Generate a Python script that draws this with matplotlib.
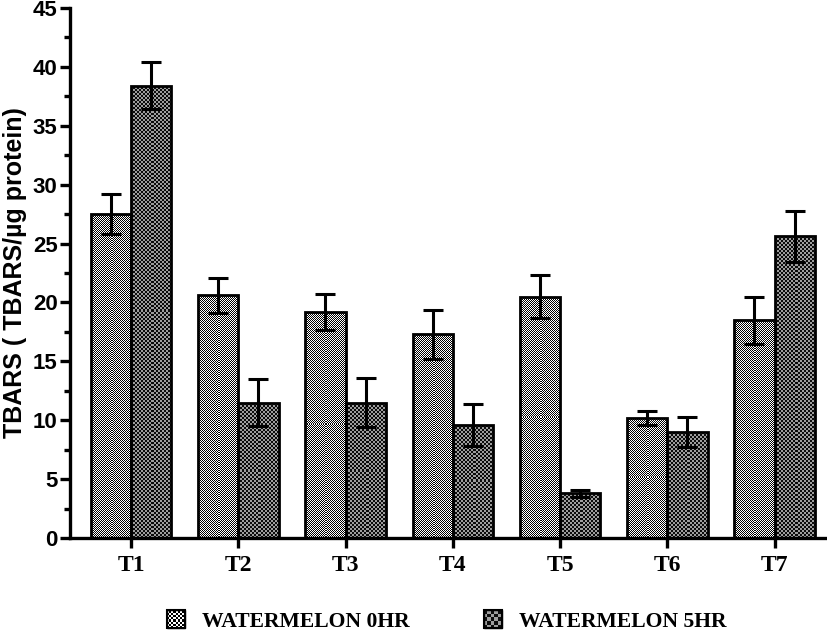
import numpy as np
import matplotlib
matplotlib.use("Agg")
import matplotlib.pyplot as plt
from matplotlib.patches import Rectangle
from matplotlib.legend_handler import HandlerBase

categories = ["T1", "T2", "T3", "T4", "T5", "T6", "T7"]
series_names = ["WATERMELON 0HR", "WATERMELON 5HR"]
vals_0hr = [27.5, 20.6, 19.2, 17.3, 20.5, 10.2, 18.5]
err_0hr = [1.7, 1.5, 1.5, 2.1, 1.8, 0.6, 2.0]
vals_5hr = [38.4, 11.5, 11.5, 9.6, 3.8, 9.0, 25.6]
err_5hr = [2.0, 2.0, 2.1, 1.8, 0.3, 1.3, 2.2]
ylabel = "TBARS ( TBARS/\u00b5g protein)"

W, H, DPI = 827, 634, 100
fig = plt.figure(figsize=(W / DPI, H / DPI), dpi=DPI)
ax = fig.add_axes([70 / W, 1 - 538 / H, (826 - 70) / W, (538 - 8) / H])

x = np.arange(len(categories))
bw = 0.375
xlim = (-0.57, 6.48)
ylim = (0, 45)
ax.set_xlim(*xlim)
ax.set_ylim(*ylim)

textures = [
    dict(cell=1, c1=(0.0, 0.0, 0.0), c2=(1.0, 1.0, 1.0)),
    dict(cell=2, c1=(0.05, 0.05, 0.05), c2=(0.62, 0.62, 0.62)),
]


def checker(hpx, wpx, cell, c1, c2):
    yy, xx = np.mgrid[0:hpx, 0:wpx]
    m = ((yy // cell + xx // cell) % 2).astype(bool)
    img = np.empty((hpx, wpx, 3))
    img[m] = c1
    img[~m] = c2
    return img


for si, (vals, errs) in enumerate([(vals_0hr, err_0hr), (vals_5hr, err_5hr)]):
    offs = -bw / 2 if si == 0 else bw / 2
    bars = ax.bar(x + offs, vals, width=bw, color="white", edgecolor="none", zorder=2)
    tex = textures[si]
    for b in bars:
        x0, y0 = b.get_x(), b.get_y()
        x1, y1 = x0 + b.get_width(), y0 + b.get_height()
        p0 = ax.transData.transform((x0, y0))
        p1 = ax.transData.transform((x1, y1))
        wpx = max(1, int(round(abs(p1[0] - p0[0]))))
        hpx = max(1, int(round(abs(p1[1] - p0[1]))))
        img = checker(hpx, wpx, tex["cell"], tex["c1"], tex["c2"])
        im = ax.imshow(img, extent=(x0, x1, y0, y1), origin="lower",
                       interpolation="nearest", aspect="auto", zorder=2.5)
        im.set_clip_path(b)
    ax.bar(x + offs, vals, width=bw, fill=False, edgecolor="black", linewidth=2.0, zorder=3)
    ax.errorbar(x + offs, vals, yerr=errs, fmt="none", ecolor="black",
                elinewidth=2.2, capsize=7, capthick=2.2, zorder=5)

ax.set_xlim(*xlim)
ax.set_ylim(*ylim)
ax.set_aspect("auto")

for s in ["top", "right"]:
    ax.spines[s].set_visible(False)
for s in ["left", "bottom"]:
    ax.spines[s].set_linewidth(2.4)

ax.set_yticks(np.arange(0, 46, 5))
ax.set_yticks(np.arange(2.5, 45, 5), minor=True)
ax.tick_params(axis="y", which="major", length=7, width=2.4, pad=2)
ax.tick_params(axis="y", which="minor", length=4, width=2.4)
ax.tick_params(axis="x", which="major", length=7, width=2.4, pad=5)
ax.set_xticks(x)
ax.set_xticklabels(categories, fontfamily="Liberation Serif", fontweight="bold", fontsize=17)
for lab in ax.get_yticklabels():
    lab.set_fontfamily("Liberation Sans")
    lab.set_fontweight("bold")
    lab.set_fontsize(16)
ax.set_ylabel(ylabel, fontfamily="Liberation Sans", fontweight="bold", fontsize=18, labelpad=4)


class CheckerHandler(HandlerBase):
    def __init__(self, tex, n=6):
        super().__init__()
        self.tex = tex
        self.n = n

    def create_artists(self, legend, orig_handle, xdescent, ydescent, width, height, fontsize, trans):
        size = min(width, height) * 1.0
        n = self.n
        c = size / n
        xs = -xdescent + (width - size) / 2
        ys = -ydescent + (height - size) / 2
        arts = [Rectangle((xs, ys), size, size, facecolor=self.tex["c2"], edgecolor="black",
                          linewidth=1.0, transform=trans)]
        for i in range(n):
            for j in range(n):
                if (i + j) % 2 == 0:
                    arts.append(Rectangle((xs + i * c, ys + j * c), c, c,
                                          facecolor=self.tex["c1"], edgecolor="none",
                                          transform=trans))
        arts.append(Rectangle((xs, ys), size, size, fill=False, edgecolor="black",
                              linewidth=1.5, transform=trans))
        return arts


h0 = Rectangle((0, 0), 1, 1)
h1 = Rectangle((0, 0), 1, 1)
leg = fig.legend([h0, h1], series_names, loc="center", bbox_to_anchor=(446 / W, 1 - 621 / H),
                 ncol=2, frameon=False, handlelength=0.9, handleheight=0.9, handletextpad=0.75,
                 columnspacing=3.4, borderpad=0.0,
                 handler_map={h0: CheckerHandler(textures[0], 8), h1: CheckerHandler(textures[1], 5)},
                 prop=dict(family="Liberation Serif", weight="bold", size=15.6))

fig.savefig("out.png", dpi=DPI)
